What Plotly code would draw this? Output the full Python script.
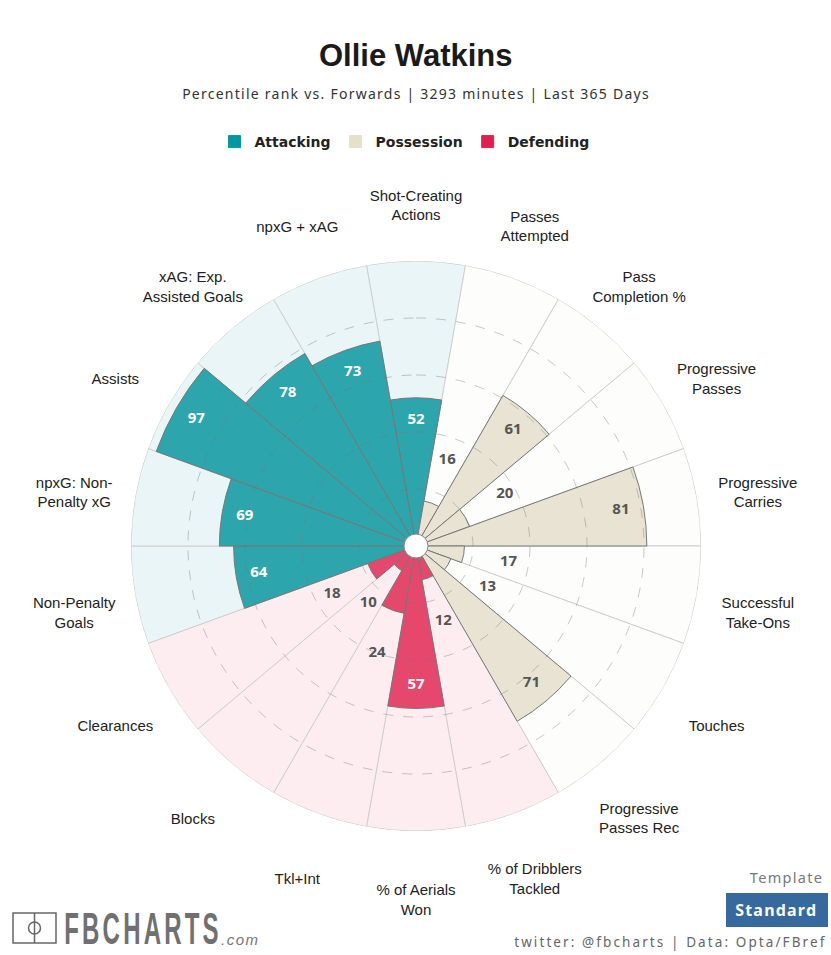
# -*- coding: utf-8 -*-

import json

import numpy as np
import plotly.graph_objs as go

W, H = 831, 955

# clockwise from the top
metrics = [
    'Shot-Creating<br>Actions', 'Passes<br>Attempted', 'Pass<br>Completion %',
    'Progressive<br>Passes', 'Progressive<br>Carries', 'Successful<br>Take-Ons',
    'Touches', 'Progressive<br>Passes Rec', '% of Dribblers<br>Tackled',
    '% of Aerials<br>Won', 'Tkl+Int', 'Blocks', 'Clearances',
    'Non-Penalty<br>Goals', 'npxG: Non-<br>Penalty xG', 'Assists',
    'xAG: Exp.<br>Assisted Goals', 'npxG + xAG',
]
percentiles = [52, 16, 61, 20, 81, 17, 13, 71, 12, 57, 24, 10, 18, 64, 69, 97, 78, 73]
groups = ['Attacking'] + ['Possession'] * 7 + ['Defending'] * 5 + ['Attacking'] * 5

group_names = ['Attacking', 'Possession', 'Defending']
legend_colors = {'Attacking': '#01999f', 'Possession': '#e6dfc9', 'Defending': '#e21f4f'}
bar_colors = {'Attacking': '#2ca6ac', 'Possession': '#e8e3d2', 'Defending': '#e5476d'}
back_colors = {'Attacking': '#e9f5f6', 'Possession': '#fdfdfb', 'Defending': '#fdedf1'}
label_colors = {'Attacking': 'white', 'Possession': '#555555', 'Defending': 'white'}
ring_levels = [20, 40, 60, 80]

subtitle = 'Percentile rank vs. Forwards | 3293 minutes | Last 365 Days'
credit = 'twitter: @fbcharts | Data: Opta/FBref'

# plotly has no letter spacing option, the page script below applies these
letter_spacing = {subtitle: 1.25, credit: 2.1, 'Template': 1.3, 'Standard': 1.2, 'FBCHARTS': 3.2, '.com': 1.5}

step = 360 / len(metrics)
angles = np.arange(len(metrics)) * step
values = np.array(percentiles)
group_arr = np.array(groups)

TEXT_FONT = 'Noto Sans'
fig = go.Figure()

for name in group_names:
    mask = group_arr == name
    fig.add_trace(go.Barpolar(
        r=[100] * int(mask.sum()), theta=angles[mask], width=step,
        marker=dict(color=back_colors[name], line=dict(color='#cfcfcf', width=1)),
        showlegend=False, hoverinfo='skip',
    ))

for name in group_names:
    mask = group_arr == name
    fig.add_trace(go.Barpolar(
        r=values[mask], theta=angles[mask], width=step,
        marker=dict(color=bar_colors[name], line=dict(color='#777777', width=1)),
        showlegend=False,
    ))

# only here to give the legend its solid swatches
for name in group_names:
    fig.add_trace(go.Barpolar(
        r=[None], theta=[None], name=name,
        marker=dict(color=legend_colors[name], line=dict(color=legend_colors[name], width=1)),
    ))

ring_theta = np.linspace(0, 360, 361)
for level in ring_levels:
    fig.add_trace(go.Scatterpolar(
        r=[level] * len(ring_theta), theta=ring_theta, mode='lines',
        line=dict(color='rgba(120,120,120,0.4)', width=1, dash='10px,10px'),
        showlegend=False, hoverinfo='skip',
    ))

fig.add_trace(go.Scatterpolar(
    r=[0], theta=[0], mode='markers',
    marker=dict(size=24, color='white', line=dict(color='#888888', width=1)),
    showlegend=False, hoverinfo='skip', cliponaxis=False,
))

# value labels sit inside long bars and just past short ones
text_r = np.where(values >= 50, values - 8, values + 16)
fig.add_trace(go.Scatterpolar(
    r=text_r, theta=angles, mode='text', text=[str(v) for v in percentiles],
    textposition='middle center',
    textfont=dict(
        family=TEXT_FONT, size=15, weight='bold',
        color=[label_colors[g] if v >= 50 else '#555555' for g, v in zip(groups, percentiles)],
    ),
    showlegend=False, hoverinfo='skip', cliponaxis=False,
))

# metric names live on a second, larger polar moved down like the original
fig.add_trace(go.Scatterpolar(
    r=[121.8] * len(metrics), theta=angles, mode='text', text=metrics,
    textposition='middle center',
    textfont=dict(family='Liberation Sans', size=15, color='#222222'),
    showlegend=False, hoverinfo='skip', cliponaxis=False, subplot='polar2',
))


def px(x):
    return x / W


def py(y):
    return 1 - y / H


def label(text, x, y, **font):
    return dict(text=text, x=px(x), y=py(y), xanchor='center', yanchor='middle',
                showarrow=False, font=font)


def axis_off(r_max):
    return dict(
        radialaxis=dict(visible=False, range=[0, r_max]),
        angularaxis=dict(visible=False, rotation=90, direction='clockwise', thetaunit='degrees'),
        bgcolor='rgba(0,0,0,0)',
    )


fig.update_layout(
    width=W, height=H,
    margin=dict(l=0, r=0, t=0, b=0),
    paper_bgcolor='white',
    polar=dict(
        domain=dict(x=[px(131), px(701)], y=[py(831), py(261)]),
        barmode='overlay', **axis_off(100),
    ),
    polar2=dict(
        domain=dict(x=[px(59.75), px(772.25)], y=[py(910.25), py(197.75)]),
        **axis_off(125),
    ),
    showlegend=True,
    legend=dict(
        orientation='h', x=px(404.5), xanchor='center', y=py(142), yanchor='middle',
        font=dict(family='DejaVu Sans', size=14, color='#222222', weight='bold'),
        itemclick=False, itemdoubleclick=False,
    ),
    annotations=[
        label('Ollie Watkins', 416, 55, family='Liberation Sans', size=31, color='#1a1a1a', weight='bold'),
        label(subtitle, 416, 94, family=TEXT_FONT, size=14, color='#333333'),
        label('FBCHARTS', 142.5, 928, family='Liberation Sans', size=24, color='#707070', weight='bold'),
        label('.com', 240, 939, family='Liberation Sans', size=15, color='#777777', style='italic'),
        label('Template', 786, 877, family=TEXT_FONT, size=14.5, color='#777777'),
        label('Standard', 776, 910, family=TEXT_FONT, size=16, color='white', weight='bold'),
        label(credit, 671, 942, family=TEXT_FONT, size=13.5, color='#666666'),
    ],
    shapes=[
        dict(type='rect', xref='paper', yref='paper', x0=px(726), x1=px(828), y0=py(927), y1=py(893),
             fillcolor='#366a9f', line=dict(width=0), layer='below'),
        dict(type='rect', xref='paper', yref='paper', x0=px(13), x1=px(56), y0=py(943), y1=py(913),
             line=dict(color='#666666', width=1.5)),
        dict(type='line', xref='paper', yref='paper', x0=px(34.5), x1=px(34.5), y0=py(943), y1=py(913),
             line=dict(color='#666666', width=1.5)),
        dict(type='circle', xref='paper', yref='paper', x0=px(28.5), x1=px(40.5), y0=py(934), y1=py(922),
             line=dict(color='#666666', width=1.5)),
    ],
)

page_script = """
document.body.style.margin = '0';
var spacing = %s;
document.getElementById('{plot_id}').querySelectorAll('.annotation-text').forEach(function (t) {
    var s = spacing[t.textContent];
    if (s) t.style.letterSpacing = s + 'px';
    if (t.textContent === 'FBCHARTS') {
        t.style.transformBox = 'fill-box';
        t.style.transformOrigin = 'center';
        t.style.transform = 'scaleY(1.85)';
    }
});
""" % json.dumps(letter_spacing)

fig.write_html("out.html", config=dict(displayModeBar=False), post_script=page_script)
